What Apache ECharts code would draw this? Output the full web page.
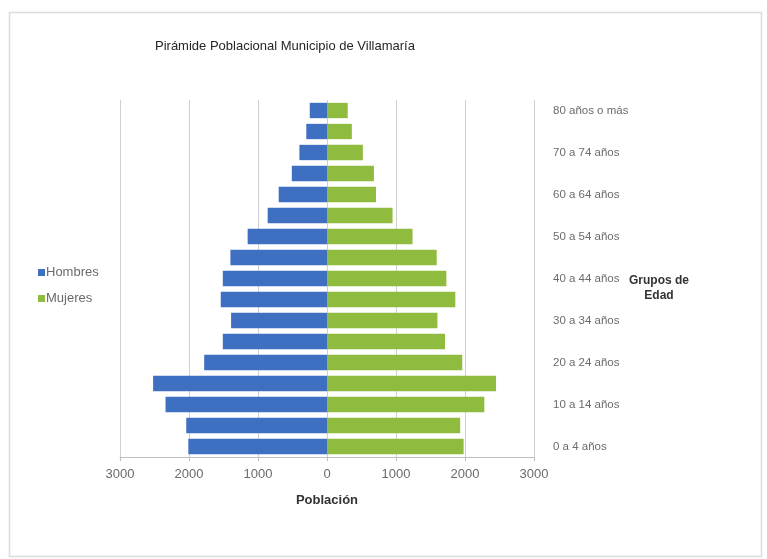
<!DOCTYPE html>
<html>
<head>
<meta charset="utf-8">
<style>
  html, body { margin: 0; padding: 0; background: #ffffff; }
  #chart { width: 767px; height: 559px; }
</style>
<script src="https://cdn.jsdelivr.net/npm/echarts@6/dist/echarts.min.js"></script>
</head>
<body>
<div id="chart"></div>
<script>
// Age groups, youngest first (bottom of the pyramid)
const ageGroups = [
  '0 a 4 años', '5 a 9 años', '10 a 14 años', '15 a 19 años', '20 a 24 años',
  '25 a 29 años', '30 a 34 años', '35 a 39 años', '40 a 44 años', '45 a 49 años',
  '50 a 54 años', '55 a 59 años', '60 a 64 años', '65 a 69 años', '70 a 74 años',
  '75 a 79 años', '80 años o más'
];

// Population by age group
const hombres = [2010, 2040, 2340, 2520, 1780, 1510, 1390, 1540, 1510, 1400, 1150, 860, 700, 510, 400, 300, 250];
const mujeres = [1980, 1930, 2280, 2450, 1960, 1710, 1600, 1860, 1730, 1590, 1240, 950, 710, 680, 520, 360, 300];

// Population axis ticks
const xTicks = [-3000, -2000, -1000, 0, 1000, 2000, 3000];

const FONT = "'Liberation Sans', Arial, sans-serif";
const BLUE = '#3f6fc1';
const GREEN = '#8fbb3f';

const chart = echarts.init(document.getElementById('chart'), null, { renderer: 'canvas' });

chart.setOption({
  backgroundColor: '#ffffff',
  animation: false,
  textStyle: { fontFamily: FONT },
  title: {
    text: 'Pirámide Poblacional Municipio de Villamaría',
    left: 150,
    top: 35,
    textStyle: { fontFamily: FONT, fontSize: 13, fontWeight: 'normal', color: '#262626' }
  },
  legend: {
    orient: 'vertical',
    left: 33,
    top: 261,
    itemWidth: 7,
    itemHeight: 7,
    itemGap: 13,
    icon: 'rect',
    textStyle: { fontFamily: FONT, fontSize: 13, color: '#6b6b6b', padding: [0, 0, 0, -4] },
    data: ['Hombres', 'Mujeres']
  },
  grid: { left: 120, right: 233, top: 100, bottom: 102 },
  xAxis: {
    type: 'value',
    min: xTicks[0],
    max: xTicks[xTicks.length - 1],
    interval: 1000,
    name: 'Población',
    nameLocation: 'middle',
    nameGap: 37,
    nameTextStyle: { fontFamily: FONT, fontSize: 13, fontWeight: 'bold', color: '#333333' },
    axisLine: { show: true, lineStyle: { color: '#bfbfbf' } },
    axisTick: { show: true, length: 4, lineStyle: { color: '#bfbfbf' } },
    axisLabel: {
      fontFamily: FONT, fontSize: 13, color: '#6b6b6b', margin: 11,
      formatter: v => String(Math.abs(v))
    },
    splitLine: { show: true, lineStyle: { color: '#d0d0d0', width: 1 } }
  },
  yAxis: {
    type: 'category',
    position: 'right',
    data: ageGroups,
    axisLine: { show: false },
    axisTick: { show: false },
    axisLabel: {
      interval: 1,
      fontFamily: FONT, fontSize: 11.5, color: '#6b6b6b', margin: 19, align: 'left'
    },
    splitLine: { show: false }
  },
  series: [
    {
      name: 'Hombres',
      type: 'bar',
      stack: 'piramide',
      barCategoryGap: '27%',
      itemStyle: { color: BLUE },
      data: hombres.map(v => -v)
    },
    {
      name: 'Mujeres',
      type: 'bar',
      stack: 'piramide',
      barCategoryGap: '27%',
      itemStyle: { color: GREEN },
      data: mujeres
    }
  ],
  graphic: [
    {
      type: 'rect',
      silent: true,
      shape: { x: 9.5, y: 12.5, width: 752, height: 544 },
      style: { fill: 'none', stroke: '#dcdcdc', lineWidth: 1.5 }
    },
    {
      type: 'text',
      x: 659,
      y: 273,
      style: {
        text: 'Grupos de\nEdad',
        fontFamily: FONT,
        fontSize: 12,
        fontWeight: 'bold',
        fill: '#333333',
        align: 'center',
        lineHeight: 15
      }
    }
  ]
});
</script>
</body>
</html>
